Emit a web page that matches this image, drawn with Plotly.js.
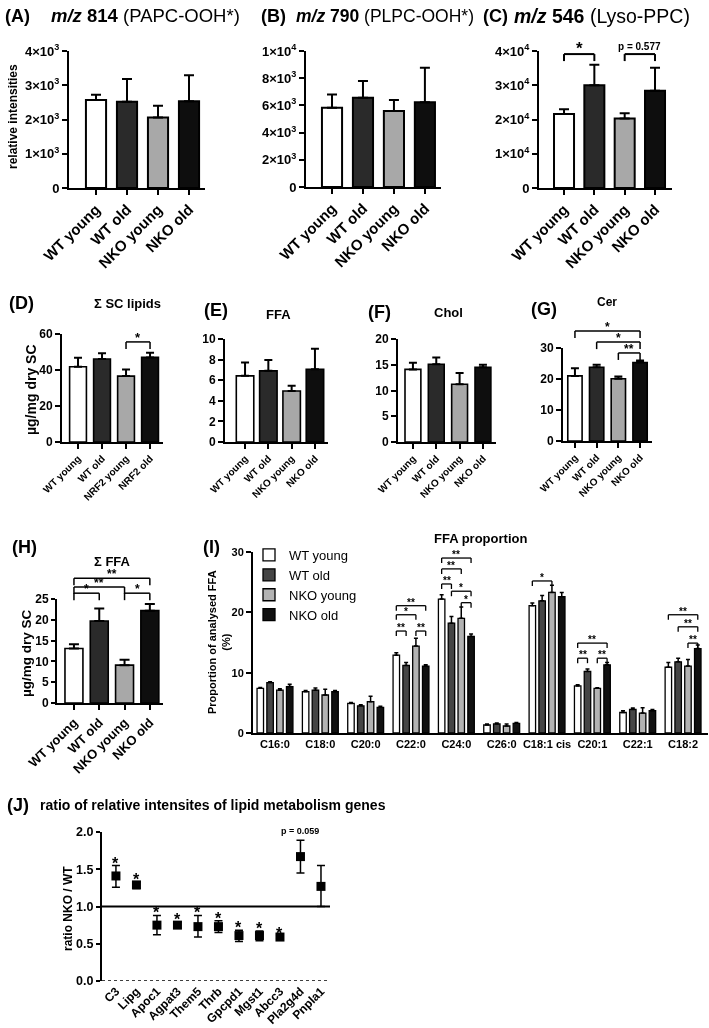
<!DOCTYPE html>
<html><head><meta charset="utf-8">
<script src="https://cdn.plot.ly/plotly-3.0.1.min.js"></script>
<style>html,body{margin:0;padding:0;background:#fff} svg.main-svg{will-change:transform}</style>
</head><body><div id="chart" style="width:709px;height:1028px"></div>
<script>
// ---------------- data ----------------
const groups = ['WT young', 'WT old', 'NKO young', 'NKO old'];
const groupsNrf2 = ['WT young', 'WT old', 'NRF2 young', 'NRF2 old'];

const tickA = ['0', '1×10<sup>3</sup>', '2×10<sup>3</sup>', '3×10<sup>3</sup>', '4×10<sup>3</sup>'];
const tickAv = [0, 1000, 2000, 3000, 4000];
const tickB = ['0', '2×10<sup>3</sup>', '4×10<sup>3</sup>', '6×10<sup>3</sup>', '8×10<sup>3</sup>', '1×10<sup>4</sup>'];
const tickBv = [0, 2000, 4000, 6000, 8000, 10000];
const tickC = ['0', '1×10<sup>4</sup>', '2×10<sup>4</sup>', '3×10<sup>4</sup>', '4×10<sup>4</sup>'];
const tickCv = [0, 10000, 20000, 30000, 40000];

const mz814Mean = [2570, 2520, 2060, 2530];
const mz814Sem = [150, 660, 340, 760];
const mz790Mean = [5830, 6560, 5590, 6240];
const mz790Sem = [970, 1240, 800, 2520];
const mz546Mean = [21600, 30000, 20300, 28400];
const mz546Sem = [1400, 6000, 1500, 6700];

const scLipidsMean = [41.8, 46.1, 36.6, 47.0];
const scLipidsSem = [5.0, 3.2, 3.7, 2.6];
const ffaMean = [6.42, 6.91, 4.95, 7.07];
const ffaSem = [1.30, 1.04, 0.52, 1.99];
const cholMean = [14.1, 15.1, 11.2, 14.5];
const cholSem = [1.3, 1.3, 2.2, 0.5];
const cerMean = [21.0, 23.8, 20.1, 25.3];
const cerSem = [2.5, 0.8, 0.7, 0.7];
const sumFfaMean = [13.1, 19.7, 9.1, 22.2];
const sumFfaSem = [1.0, 3.0, 1.3, 1.6];

const fattyAcids = ['C16:0', 'C18:0', 'C20:0', 'C22:0', 'C24:0', 'C26:0', 'C18:1 cis', 'C20:1', 'C22:1', 'C18:2'];
const propWtYoung = [7.4, 6.85, 4.9, 12.9, 22.2, 1.33, 21.1, 7.8, 3.4, 10.9];
const propWtYoungSem = [0.15, 0.2, 0.15, 0.4, 0.7, 0.15, 0.45, 0.2, 0.3, 0.8];
const propWtOld = [8.35, 7.1, 4.5, 11.2, 18.2, 1.5, 21.9, 10.2, 3.9, 11.8];
const propWtOldSem = [0.15, 0.35, 0.2, 0.5, 1.1, 0.15, 0.9, 0.4, 0.25, 0.6];
const propNkoYoung = [7.1, 6.3, 5.2, 14.4, 19.0, 1.16, 23.3, 7.4, 3.3, 11.1];
const propNkoYoungSem = [0.25, 0.95, 0.9, 1.3, 1.9, 0.35, 1.2, 0.1, 0.9, 1.1];
const propNkoOld = [7.7, 6.85, 4.25, 11.1, 16.0, 1.6, 22.6, 11.3, 3.7, 14.0];
const propNkoOldSem = [0.4, 0.2, 0.2, 0.2, 0.4, 0.15, 0.7, 0.4, 0.2, 0.6];

const genes = ['C3', 'Lipg', 'Apoc1', 'Agpat3', 'Them5', 'Thrb', 'Gpcpd1', 'Mgst1', 'Abcc3', 'Pla2g4d', 'Pnpla1'];
const ratioMean = [1.41, 1.29, 0.75, 0.75, 0.73, 0.73, 0.61, 0.61, 0.59, 1.67, 1.27];
const ratioErrUp = [0.14, 0.04, 0.13, 0.04, 0.15, 0.08, 0.07, 0.06, 0.02, 0.22, 0.28];
const ratioErrDown = [0.15, 0.05, 0.13, 0.04, 0.14, 0.08, 0.08, 0.07, 0.02, 0.22, 0.27];
const ratioSig = ['*', '*', '*', '*', '*', '*', '*', '*', '*', 'p = 0.059', ''];

// significance brackets (data units of each panel)
const sigC = [{from: 0, to: 1, y: 39100, label: '*'}, {from: 2, to: 3, y: 39100, label: 'p = 0.577'}];
const sigD = [{from: 2, to: 3, y: 55.6, label: '*'}];
const sigG = [{from: 0, to: 3, y: 35.5, label: '*'}, {from: 1, to: 3, y: 31.9, label: '*'}, {from: 2, to: 3, y: 28.4, label: '**'}];
const sigH = [{from: 0, to: 3, y: 30.0, label: '**'}, {from: 0, to: 2, y: 27.9, label: '**'}, {from: 0, to: 1, y: 26.4, label: '*'}, {from: 2, to: 3, y: 26.4, label: '*'}];
const sigI = [
  {g: 3, from: 0, to: 3, y: 21.1, label: '**'}, {g: 3, from: 0, to: 2, y: 19.6, label: '*'},
  {g: 3, from: 0, to: 1, y: 16.9, label: '**'}, {g: 3, from: 2, to: 3, y: 16.9, label: '**'},
  {g: 4, from: 0, to: 3, y: 29.0, label: '**'}, {g: 4, from: 0, to: 2, y: 27.2, label: '**'},
  {g: 4, from: 0, to: 1, y: 24.7, label: '**'}, {g: 4, from: 1, to: 3, y: 23.5, label: '*'},
  {g: 4, from: 2, to: 3, y: 21.6, label: '*'},
  {g: 6, from: 0, to: 2, y: 25.2, label: '*'},
  {g: 7, from: 0, to: 3, y: 14.9, label: '**'}, {g: 7, from: 0, to: 1, y: 12.4, label: '**'}, {g: 7, from: 2, to: 3, y: 12.4, label: '**'},
  {g: 9, from: 0, to: 3, y: 19.6, label: '**'}, {g: 9, from: 1, to: 3, y: 17.6, label: '**'}, {g: 9, from: 2, to: 3, y: 14.9, label: '**'}
];

// ---------------- layout geometry ----------------
const W = 709, H = 1028;
const FONT = 'Liberation Sans, Arial, Helvetica, sans-serif';
const BARCOL = ['#ffffff', '#2a2a2a', '#a8a8a8', '#0e0e0e'];
const BARCOL_I = ['#ffffff', '#454545', '#b3b3b3', '#111111'];
const BARGAP = 0.135;

const P = {
  A: {n: 1, x: [69, 205], y: [188, 51], xr: [-0.871, 3.516], yr: [0, 4000]},
  B: {n: 2, x: [306, 441], y: [187, 51], xr: [-0.84, 3.52], yr: [0, 10000]},
  C: {n: 3, x: [539, 672], y: [188, 51], xr: [-0.825, 3.56], yr: [0, 40000]},
  D: {n: 4, x: [62, 163], y: [442, 334], xr: [-0.667, 3.54], yr: [0, 60]},
  E: {n: 5, x: [225, 328], y: [442, 339], xr: [-0.86, 3.56], yr: [0, 10]},
  F: {n: 6, x: [398, 496], y: [442, 339], xr: [-0.64, 3.56], yr: [0, 20]},
  G: {n: 7, x: [563, 652], y: [441, 348], xr: [-0.55, 3.55], yr: [0, 30]},
  H: {n: 8, x: [57, 163], y: [703, 599], xr: [-0.67, 3.52], yr: [0, 25]},
  I: {n: 9, x: [253, 708], y: [733, 552], xr: [-0.485, 9.55], yr: [0, 30]},
  J: {n: 10, x: [102, 330], y: [981, 832], xr: [-0.68, 10.44], yr: [0, 2]}
};
const ax = (p, l) => (l + (p.n === 1 ? '' : p.n));

const layout = {
  width: W, height: H, margin: {l: 0, r: 0, t: 0, b: 0},
  paper_bgcolor: '#fff', plot_bgcolor: 'rgba(0,0,0,0)',
  font: {family: FONT, color: '#000'},
  barmode: 'group', bargap: BARGAP, bargroupgap: 0.34,
  showlegend: true,
  legend: {x: 249 / W, y: 1 - 540 / H, xanchor: 'left', yanchor: 'top', bgcolor: 'rgba(0,0,0,0)',
           font: {family: FONT, size: 13, color: '#000'}, tracegroupgap: 0},
  annotations: [], shapes: []
};

function setAxes(p, o) {
  const xa = {
    domain: [p.x[0] / W, p.x[1] / W], range: p.xr, anchor: ax(p, 'y'),
    showgrid: false, zeroline: false, showline: o.xline !== false, linewidth: 2, linecolor: '#000',
    ticks: o.xticks === false ? '' : 'outside', ticklen: 5, tickwidth: 2, tickcolor: '#000',
    tickmode: 'array', tickvals: o.xcats.map((_, i) => i), ticktext: o.xcats,
    tickangle: o.xangle === undefined ? -45 : o.xangle,
    tickfont: {family: FONT, size: o.xfs, color: '#000', weight: 'bold'}, fixedrange: true
  };
  const ya = {
    domain: [1 - p.y[0] / H, 1 - p.y[1] / H], range: p.yr, anchor: ax(p, 'x'),
    showgrid: false, zeroline: false, showline: true, linewidth: 2, linecolor: '#000',
    ticks: 'outside', ticklen: o.ytl || 5, tickwidth: 2, tickcolor: '#000',
    tickfont: {family: FONT, size: o.yfs, color: '#000', weight: 'bold'}, fixedrange: true
  };
  if (o.yvals) { ya.tickmode = 'array'; ya.tickvals = o.yvals; ya.ticktext = o.ytext; }
  else { ya.dtick = o.dtick; ya.tickformat = o.fmt || ''; }
  layout[ax(p, 'xaxis')] = xa;
  layout[ax(p, 'yaxis')] = ya;
}

const traces = [];
function barPanel(p, mean, sem, cats, o) {
  setAxes(p, Object.assign({xcats: cats}, o));
  traces.push({
    type: 'bar', x: cats.map((_, i) => i), y: mean, width: o.bw,
    xaxis: ax(p, 'x'), yaxis: ax(p, 'y'), showlegend: false,
    marker: {color: BARCOL, line: {color: '#000', width: o.lw || 1.6}},
    error_y: {type: 'data', symmetric: false, array: sem, arrayminus: sem.map(() => 0),
              color: '#000', thickness: o.et || 2, width: o.ew || 5}
  });
}

function brackets(p, list, o) {
  const span = p.y[0] - p.y[1];
  const leg = o.leg / span;
  list.forEach(b => {
    const x0 = b.g === undefined ? b.from : b.g + (b.from - 1.5) * (1 - BARGAP) / 4;
    const x1 = b.g === undefined ? b.to : b.g + (b.to - 1.5) * (1 - BARGAP) / 4;
    const yf = b.y / p.yr[1];
    const base = {type: 'line', xref: ax(p, 'x'), yref: ax(p, 'y') + ' domain', line: {color: '#000', width: o.lw || 1.5}};
    layout.shapes.push(Object.assign({}, base, {x0: x0, x1: x1, y0: yf, y1: yf}));
    layout.shapes.push(Object.assign({}, base, {x0: x0, x1: x0, y0: yf, y1: yf - leg}));
    layout.shapes.push(Object.assign({}, base, {x0: x1, x1: x1, y0: yf, y1: yf - leg}));
    const small = b.label.length > 2;
    layout.annotations.push({
      xref: ax(p, 'x'), yref: ax(p, 'y') + ' domain', x: (x0 + x1) / 2, y: yf,
      text: b.label, showarrow: false, xanchor: 'center', yanchor: 'bottom',
      yshift: small ? 0 : o.shift, font: {family: FONT, size: small ? o.small : o.fs, color: '#000', weight: 'bold'}
    });
  });
}

function txt(x, y, text, size, o) {
  o = o || {};
  layout.annotations.push(Object.assign({
    xref: 'paper', yref: 'paper', x: x / W, y: 1 - y / H, text: text, showarrow: false,
    xanchor: 'left', yanchor: 'middle', font: {family: FONT, size: size, color: '#000'}
  }, o));
}

// ---------------- panels A-C ----------------
barPanel(P.A, mz814Mean, mz814Sem, groups, {bw: 0.65, xfs: 15, yfs: 13, yvals: tickAv, ytext: tickA, lw: 2});
barPanel(P.B, mz790Mean, mz790Sem, groups, {bw: 0.65, xfs: 15, yfs: 13, yvals: tickBv, ytext: tickB, lw: 2});
barPanel(P.C, mz546Mean, mz546Sem, groups, {bw: 0.66, xfs: 15, yfs: 13, yvals: tickCv, ytext: tickC, lw: 2});
brackets(P.C, sigC, {leg: 7, fs: 17, small: 10, shift: -6, lw: 2});

// ---------------- panels D-G ----------------
barPanel(P.D, scLipidsMean, scLipidsSem, groupsNrf2, {bw: 0.7, xfs: 10, yfs: 12, dtick: 20, ew: 4});
barPanel(P.E, ffaMean, ffaSem, groups, {bw: 0.75, xfs: 10, yfs: 12, dtick: 2, ew: 4});
barPanel(P.F, cholMean, cholSem, groups, {bw: 0.68, xfs: 10, yfs: 12, dtick: 5, ew: 4});
barPanel(P.G, cerMean, cerSem, groups, {bw: 0.66, xfs: 10, yfs: 12, dtick: 10, ew: 4});
brackets(P.D, sigD, {leg: 7, fs: 13, shift: -5});
brackets(P.G, sigG, {leg: 7, fs: 12, shift: -5});

// ---------------- panel H ----------------
barPanel(P.H, sumFfaMean, sumFfaSem, groups, {bw: 0.71, xfs: 13, yfs: 12, ytl: 4, dtick: 5, ew: 5});
brackets(P.H, sigH, {leg: 7, fs: 12, shift: -5});

// ---------------- panel I ----------------
setAxes(P.I, {xcats: fattyAcids, xangle: 0, xticks: false, xfs: 11, yfs: 11, dtick: 10});
const iSeries = [
  [groups[0], propWtYoung, propWtYoungSem], [groups[1], propWtOld, propWtOldSem],
  [groups[2], propNkoYoung, propNkoYoungSem], [groups[3], propNkoOld, propNkoOldSem]
];
iSeries.forEach((s, k) => traces.push({
  type: 'bar', name: s[0], x: fattyAcids.map((_, i) => i), y: s[1],
  xaxis: 'x9', yaxis: 'y9', showlegend: true,
  marker: {color: BARCOL_I[k], line: {color: '#000', width: 1.3}},
  error_y: {type: 'data', symmetric: false, array: s[2], arrayminus: s[2].map(() => 0),
            color: '#000', thickness: 1.5, width: 2}
}));
brackets(P.I, sigI, {leg: 5, fs: 10, shift: -4, lw: 1.3});

// ---------------- panel J ----------------
setAxes(P.J, {xcats: genes, xline: false, xticks: false, xfs: 12, yfs: 12.5, ytl: 4, dtick: 0.5, fmt: '.1f'});
traces.push({
  type: 'scatter', mode: 'markers', x: genes.map((_, i) => i), y: ratioMean,
  xaxis: 'x10', yaxis: 'y10', showlegend: false, cliponaxis: false,
  marker: {symbol: 'square', size: 9, color: '#000'},
  error_y: {type: 'data', symmetric: false, array: ratioErrUp, arrayminus: ratioErrDown,
            color: '#000', thickness: 1.5, width: 4}
});
layout.shapes.push({type: 'line', xref: 'x10 domain', yref: 'y10', x0: 0, x1: 1, y0: 1, y1: 1, line: {color: '#000', width: 2}});
layout.shapes.push({type: 'line', xref: 'x10 domain', yref: 'y10', x0: 0, x1: 1, y0: 0, y1: 0, line: {color: '#000', width: 1.5, dash: 'dot'}});
ratioSig.forEach((s, i) => {
  if (!s) return;
  const small = s.length > 2;
  layout.annotations.push({
    xref: 'x10', yref: 'y10 domain', x: i, y: (ratioMean[i] + ratioErrUp[i]) / P.J.yr[1],
    text: s, showarrow: false, xanchor: 'center', yanchor: 'bottom', yshift: small ? 2 : -8,
    font: {family: FONT, size: small ? 9 : 16, color: '#000', weight: 'bold'}
  });
});

// ---------------- titles and axis titles ----------------
txt(3, 16, '<b>(A)</b>', 18);
txt(49, 16, '<b><i>m/z</i> 814</b> (PAPC-OOH*)', 18.5);
txt(259, 16, '<b>(B)</b>', 18);
txt(294, 16, '<b><i>m/z</i> 790</b> (PLPC-OOH*)', 17.5);
txt(481, 16, '<b>(C)</b>', 18);
txt(512, 16, '<b><i>m/z</i> 546</b> (Lyso-PPC)', 19.5);
txt(13, 117, '<b>relative intensities</b>', 12, {xanchor: 'center', textangle: -90});

txt(7, 303, '<b>(D)</b>', 18);
txt(127, 303, '<b>Σ SC lipids</b>', 13, {xanchor: 'center'});
txt(202, 310, '<b>(E)</b>', 18);
txt(278, 314, '<b>FFA</b>', 13, {xanchor: 'center'});
txt(366, 312, '<b>(F)</b>', 18);
txt(448, 312, '<b>Chol</b>', 13, {xanchor: 'center'});
txt(529, 309, '<b>(G)</b>', 18);
txt(607, 302, '<b>Cer</b>', 12, {xanchor: 'center'});
txt(31, 390, '<b>µg/mg dry SC</b>', 14, {xanchor: 'center', textangle: -90});

txt(10, 547, '<b>(H)</b>', 18);
txt(112, 561, '<b>Σ FFA</b>', 13, {xanchor: 'center'});
txt(26, 653, '<b>µg/mg dry SC</b>', 13.5, {xanchor: 'center', textangle: -90});
txt(201, 547, '<b>(I)</b>', 18);
txt(481, 538, '<b>FFA proportion</b>', 13, {xanchor: 'center'});
txt(219, 642, '<b>Proportion of analysed FFA<br>(%)</b>', 11, {xanchor: 'center', textangle: -90});

txt(5, 805, '<b>(J)</b>', 18);
txt(38, 805, '<b>ratio of relative intensites of lipid metabolism genes</b>', 14);
txt(68, 909, '<b>ratio NKO / WT</b>', 12, {xanchor: 'center', textangle: -90});

Plotly.newPlot('chart', traces, layout, {staticPlot: true, displayModeBar: false});
</script></body></html>
